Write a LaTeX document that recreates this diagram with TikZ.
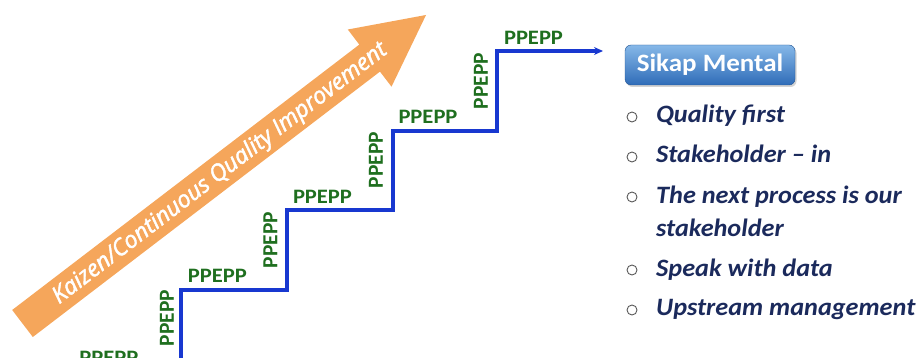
\documentclass[tikz,border=0pt]{standalone}
\usepackage{fontspec}
\setmainfont{Carlito}
\newfontfamily\lblfont[FakeStretch=1.1]{Carlito}
\newfontfamily\itemfont[FakeStretch=1.05]{Carlito}
\newfontfamily\boxfont[FakeStretch=1.08]{Carlito}
\newfontfamily\kzfont[FakeBold=2]{Open Sans}
\usetikzlibrary{arrows.meta,shadows}
\definecolor{orng}{HTML}{F5A65B}
\definecolor{stairblue}{HTML}{1838D0}
\definecolor{lblgreen}{HTML}{1F6F1F}
\definecolor{navy}{HTML}{1B2A5C}
\definecolor{boxtop}{HTML}{86B8E8}
\definecolor{boxbot}{HTML}{2F6CB8}
\begin{document}
\begin{tikzpicture}[x=1pt,y=-1pt,
  stair/.style={draw=stairblue,line width=3.8pt,line join=miter,-{Stealth[length=9pt,width=8pt]}},
  lbl/.style={text=lblgreen,font=\lblfont\fontsize{20.5}{24}\selectfont\bfseries,inner sep=0pt},
  vlbl/.style={text=lblgreen,font=\fontsize{21.5}{24}\selectfont\bfseries,inner sep=0pt,rotate=90},
  kaizen/.style={text=white,font=\kzfont\fontsize{23.2}{26}\selectfont\itshape,inner sep=0pt,transform shape},
  sikap/.style={rounded corners=6pt,minimum width=170pt,minimum height=40pt,top color=boxtop,bottom color=boxbot,draw=boxbot!80!black,line width=0.4pt,drop shadow={opacity=0.35,shadow xshift=1.5pt,shadow yshift=-2pt},text=white,font=\boxfont\fontsize{25}{30}\selectfont\bfseries,inner sep=0pt},
  bul/.style={circle,draw=black!65,line width=0.9pt,minimum size=10pt,inner sep=0pt},
  item/.style={anchor=base west,text=navy,font=\itemfont\fontsize{25}{30}\selectfont\bfseries\itshape,inner sep=0pt}
]
\useasboundingbox (0,0) rectangle (920,358);
\clip (0,0) rectangle (920,358);
% orange arrow
\begin{scope}[shift={(22.5,323.5)},rotate=37.4]
  \fill[orng] (0,-17) -- (437,-17) -- (437,-36) -- (508,0) -- (437,36) -- (437,17) -- (0,17) -- cycle;
  \node[kaizen] (kz) at (248,1) {Kaizen/Continuous Quality Improvement};
\end{scope}
% stairs
\coordinate (s0) at (181,372);
\coordinate (s1) at (181,290);
\coordinate (s2) at (287,290);
\coordinate (s3) at (287,210);
\coordinate (s4) at (393,210);
\coordinate (s5) at (393,131);
\coordinate (s6) at (497,131);
\coordinate (s7) at (497,51);
\coordinate (s8) at (603,51);
\draw[stair] (s0) -- (s1) -- (s2) -- (s3) -- (s4) -- (s5) -- (s6) -- (s7) -- (s8);
% labels
\node[lbl] (h0) at (109,358) {PPEPP};
\node[lbl] (h1) at (217.5,276) {PPEPP};
\node[lbl] (h2) at (322.5,196.5) {PPEPP};
\node[lbl] (h3) at (428,117) {PPEPP};
\node[lbl] (h4) at (533.5,38) {PPEPP};
\node[vlbl] (v1) at (167,318) {PPEPP};
\node[vlbl] (v2) at (270.5,240) {PPEPP};
\node[vlbl] (v3) at (376,160) {PPEPP};
\node[vlbl] (v4) at (481,81) {PPEPP};
% Sikap Mental
\node[sikap] (sm) at (710,65) {Sikap Mental};
% bullets
\node[bul] (b1) at (632,117) {};
\node[bul] (b2) at (632,157) {};
\node[bul] (b3) at (632,197) {};
\node[bul] (b4) at (632,270) {};
\node[bul] (b5) at (632,310) {};
\node[item] (t1) at (656,123) {Quality first};
\node[item] (t2) at (656,163) {Stakeholder – in};
\node[item] (t3) at (656,203) {The next process is our};
\node[item] (t3b) at (656,236) {stakeholder};
\node[item] (t4) at (656,276) {Speak with data};
\node[item] (t5) at (656,315) {Upstream management};
\end{tikzpicture}
\end{document}
